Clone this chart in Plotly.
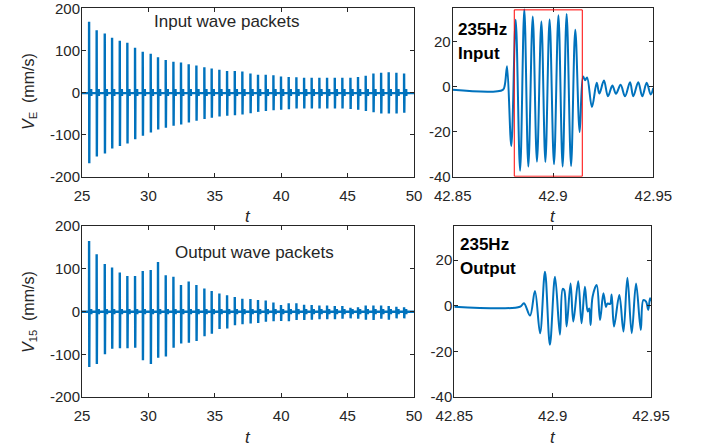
import plotly.graph_objects as go

# ---------------- data ----------------
packet_t = [25.53, 26.10, 26.71, 27.26, 27.84, 28.41, 28.99, 29.57, 30.17, 30.72,
            31.30, 31.88, 32.45, 33.03, 33.61, 34.21, 34.76, 35.34, 35.92, 36.50,
            37.07, 37.68, 38.25, 38.83, 39.41, 39.98, 40.56, 41.14, 41.72, 42.29,
            42.87, 43.45, 44.03, 44.60, 45.21, 45.78, 46.36, 46.94, 47.52, 48.09,
            48.67, 49.25]

in_pos = [168, 148, 140, 130, 123, 118, 106, 97, 92, 84,
          77, 73, 71, 67, 64, 60, 57, 54, 51, 51,
          50, 45, 42, 42, 41, 38, 37, 36, 35, 35,
          35, 35, 35, 35, 35, 37, 40, 45, 47, 48,
          47, 45]
in_neg = [-168, -152, -145, -133, -127, -121, -111, -103, -95, -88,
          -84, -79, -76, -71, -67, -63, -60, -57, -55, -54,
          -52, -49, -46, -44, -42, -41, -40, -38, -38, -38,
          -38, -38, -38, -38, -39, -41, -44, -47, -50, -50,
          -50, -48]

out_pos = [165, 134, 111, 103, 91, 83, 83, 95, 97, 116,
           85, 81, 62, 70, 62, 54, 48, 42, 38, 34,
           30, 29, 27, 26, 21, 15, 19, 19, 16, 15,
           14, 14, 13, 13, 9, 10, 14, 14, 14, 13,
           11, 10]
out_neg = [-130, -123, -100, -87, -86, -86, -85, -114, -123, -108,
           -105, -85, -75, -73, -69, -58, -52, -41, -40, -32,
           -30, -28, -27, -24, -23, -22, -23, -20, -20, -19,
           -18, -18, -18, -17, -16, -17, -19, -20, -17, -19,
           -16, -16]

in_base = -1.5
out_base = -0.5

in_zoom_t = [42.8500, 42.8750, 42.8760, 42.8771, 42.8792, 42.8814, 42.8836, 42.8857,
             42.8877, 42.8899, 42.8920, 42.8942, 42.8962, 42.8983, 42.9005, 42.9027,
             42.9048, 42.9068, 42.9090, 42.9111, 42.9133, 42.9150, 42.9160, 42.9170,
             42.9194, 42.9218, 42.9231, 42.9254, 42.9274, 42.9296, 42.9314, 42.9337,
             42.9359, 42.9384, 42.9400, 42.9425, 42.9445, 42.9467, 42.9487, 42.9500]
in_zoom_v = [-1.3, -1.3, 1.0, 9.2, -26.3, 29.9, -37.3, 34.6,
             -35.5, 31.3, -33.3, 29.1, -33.4, 30.0, -34.5, 31.9,
             -35.5, 32.5, -35.2, 25.4, -20.1, 4.6, 3.0, 4.2,
             -9.0, 1.8, -3.0, 2.8, -4.2, 0.6, -3.1, 0.9,
             -4.2, 2.1, -4.2, 2.1, -4.2, 1.8, -3.4, -0.5]

out_zoom_t = [42.8500, 42.8834, 42.8854, 42.8885, 42.8910, 42.8936, 42.8961, 42.8986,
              42.9012, 42.9037, 42.9051, 42.9059, 42.9071, 42.9091, 42.9105, 42.9130,
              42.9147, 42.9164, 42.9178, 42.9186, 42.9193, 42.9203, 42.9224, 42.9241,
              42.9258, 42.9271, 42.9278, 42.9292, 42.9300, 42.9312, 42.9339, 42.9360,
              42.9380, 42.9402, 42.9424, 42.9448, 42.9461, 42.9475, 42.9486, 42.9495,
              42.9500]
out_zoom_v = [-0.4, -0.4, 1.1, -4.3, 6.5, -12.0, 14.9, -17.1,
              12.7, -12.7, 7.4, 6.8, -9.1, 9.8, -6.9, 10.8,
              -7.6, 8.4, -2.5, -1.2, -8.4, 4.0, 9.1, -6.2,
              5.5, -0.5, 1.0, 0.8, 5.0, -9.1, 4.7, -11.3,
              12.3, -12.0, 9.8, -10.6, 2.5, 1.8, -1.8, 3.3,
              2.0]

left_xticks = [25, 30, 35, 40, 45, 50]
left_yticks = [-200, -100, 0, 100, 200]
right_xticks = [42.85, 42.9, 42.95]
right_xlabels = ["42.85", "42.9", "42.95"]
right_yticks = [-40, -20, 0, 20]

box_t = [42.8807, 42.9146]
box_v = [-39.8, 34.3]

# ---------------- style ----------------
BLUE = "#0072BD"
INK = "#262626"
FONT = "Liberation Sans, Arial, sans-serif"


def packet_series(times, pos, neg, base, blip):
    xs, ys = [25.0], [base]
    for t, a, b in zip(times, pos, neg):
        xs += [t, t + 0.004, t + 0.018, t + 0.035, t + 0.15, t + 0.16, t + 0.17, t + 0.18]
        ys += [base, a, b, base, base, blip, -blip, base]
    xs.append(50.0)
    ys.append(base)
    return xs, ys


def labels(vals):
    return [str(v) for v in vals]  # plain hyphen minus, as in the reference


fig = go.Figure()

x1, y1 = packet_series(packet_t, in_pos, in_neg, in_base, 8)
x3, y3 = packet_series(packet_t, out_pos, out_neg, out_base, 6)

fig.add_trace(go.Scatter(x=x1, y=y1, mode="lines", line=dict(color=BLUE, width=2.4),
                         xaxis="x", yaxis="y", showlegend=False))
fig.add_trace(go.Scatter(x=in_zoom_t, y=in_zoom_v, mode="lines",
                         line=dict(color=BLUE, width=2, shape="spline", smoothing=1),
                         xaxis="x2", yaxis="y2", showlegend=False))
fig.add_trace(go.Scatter(x=x3, y=y3, mode="lines", line=dict(color=BLUE, width=2.4),
                         xaxis="x3", yaxis="y3", showlegend=False))
fig.add_trace(go.Scatter(x=out_zoom_t, y=out_zoom_v, mode="lines",
                         line=dict(color=BLUE, width=2, shape="spline", smoothing=1),
                         xaxis="x4", yaxis="y4", showlegend=False))

W, H = 704, 446
px = lambda v: v / W
py = lambda v: 1 - v / H

axis_common = dict(showline=True, linecolor=INK, linewidth=1, mirror="ticks",
                   ticks="inside", ticklen=4, tickcolor=INK, tickwidth=1,
                   showgrid=False, zeroline=False, automargin=False,
                   ticklabeloverflow="allow",
                   tickfont=dict(family=FONT, size=15, color=INK))
xax = dict(axis_common, ticklabelstandoff=5)
yax = dict(axis_common, ticklabelstandoff=-2)

left_dom = [px(82), px(414)]
top_dom = [py(176.7), py(8.3)]
bot_dom = [py(397), py(226)]

fig.update_layout(
    template="none",
    width=W, height=H,
    margin=dict(l=0, r=0, t=0, b=0, autoexpand=False),
    paper_bgcolor="white", plot_bgcolor="white",
    xaxis=dict(domain=left_dom, anchor="y", range=[25, 50],
               tickvals=left_xticks, ticktext=labels(left_xticks), **xax),
    yaxis=dict(domain=top_dom, anchor="x", range=[-200, 200],
               tickvals=left_yticks, ticktext=labels(left_yticks), **yax),
    xaxis2=dict(domain=[px(452.7), px(653.3)], anchor="y2", range=[42.85, 42.95],
                tickvals=right_xticks, ticktext=right_xlabels, **xax),
    yaxis2=dict(domain=top_dom, anchor="x2", range=[-40, 35],
                tickvals=right_yticks, ticktext=labels(right_yticks), **yax),
    xaxis3=dict(domain=left_dom, anchor="y3", range=[25, 50],
                tickvals=left_xticks, ticktext=labels(left_xticks), **xax),
    yaxis3=dict(domain=bot_dom, anchor="x3", range=[-200, 200],
                tickvals=left_yticks, ticktext=labels(left_yticks), **yax),
    xaxis4=dict(domain=[px(454.3), px(651)], anchor="y4", range=[42.85, 42.95],
                tickvals=right_xticks, ticktext=right_xlabels, **xax),
    yaxis4=dict(domain=bot_dom, anchor="x4", range=[-40, 35],
                tickvals=right_yticks, ticktext=labels(right_yticks), **yax),
)

fig.add_shape(type="rect", xref="x2", yref="y2", x0=box_t[0], x1=box_t[1],
              y0=box_v[0], y1=box_v[1], line=dict(color="#FF0000", width=1))

ann = []


def note(x, y, text, size=17, bold=False, xanchor="center", angle=0):
    t = f"<b>{text}</b>" if bold else text
    ann.append(dict(xref="paper", yref="paper", x=px(x), y=py(y), text=t,
                    showarrow=False, xanchor=xanchor, yanchor="middle", textangle=angle,
                    font=dict(family=FONT, size=size, color="black" if bold else INK)))


note(226.7, 21.7, "Input wave packets", size=17)
note(254.7, 252.7, "Output wave packets", size=17)
note(456, 30, "235Hz", bold=True, xanchor="left")
note(456, 53, "Input", bold=True, xanchor="left")
note(457.7, 244.5, "235Hz", bold=True, xanchor="left")
note(457.7, 268.5, "Output", bold=True, xanchor="left")
note(248, 216.5, "<i>t</i>", size=17)
note(553, 216.5, "<i>t</i>", size=17)
note(248, 437.5, "<i>t</i>", size=17)
note(552.5, 437.5, "<i>t</i>", size=17)
note(29, 92, "<i>V</i><sub>E</sub>\u00a0\u00a0(mm/s)", size=16, angle=-90)
note(29, 312, "<i>V</i><sub>15</sub>\u00a0\u00a0(mm/s)", size=16, angle=-90)

fig.update_layout(annotations=ann)

fig.write_html("out.html", config={"displayModeBar": False},
               post_script="document.body.style.margin='0';document.body.style.overflow='hidden';")
